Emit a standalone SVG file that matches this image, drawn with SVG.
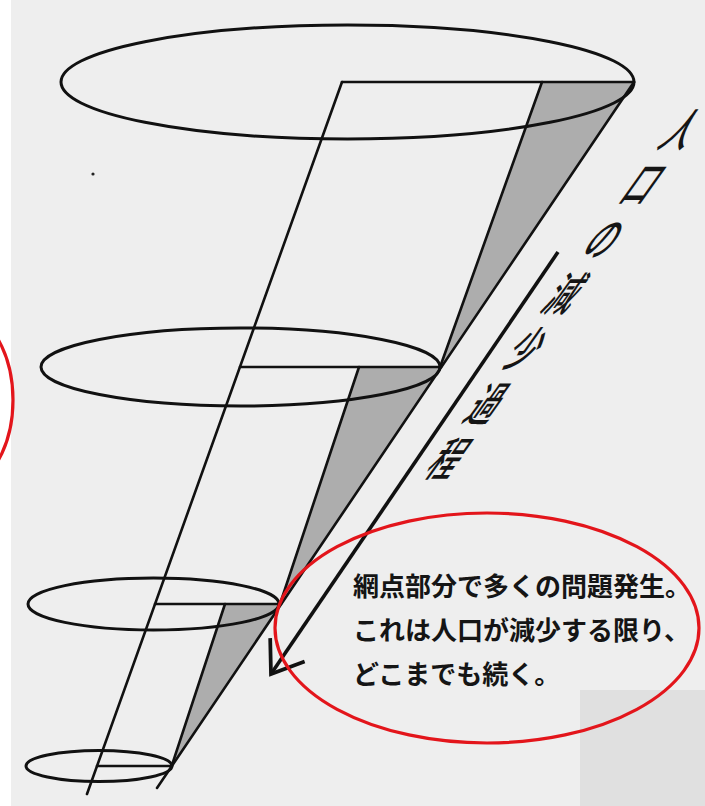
<svg xmlns="http://www.w3.org/2000/svg" width="705" height="806" viewBox="0 0 705 806">
  <defs>
    <style>
      .ln { stroke: #111; stroke-width: 2.6; fill: none; stroke-linecap: round; }
      .el { stroke: #111; stroke-width: 3; fill: none; }
      .shade { fill: #adadad; stroke: none; }
      .red { stroke: #e3151b; stroke-width: 3.2; fill: none; }
      .note { font-family: "Noto Sans CJK JP", sans-serif; font-size: 26px; font-weight: 700; fill: #151515; }
      .lbl { font-family: "Noto Sans CJK JP", sans-serif; font-size: 28px; font-weight: 500; fill: #151515; }
    </style>
    <marker id="openhead" markerUnits="userSpaceOnUse" markerWidth="40" markerHeight="50" refX="0" refY="0" viewBox="-32 -24 36 48" orient="auto" overflow="visible">
      <path d="M -28,-20 L 0,0 L -28,20" fill="none" stroke="#111" stroke-width="3.6"/>
    </marker>
  </defs>

  <!-- paper background -->
  <rect x="0" y="0" width="705" height="806" fill="#eeeeee"/>
  <rect x="0" y="0" width="11" height="806" fill="#ffffff"/>
  <rect x="580" y="690" width="125" height="116" fill="#e0e0e0"/>
  <circle cx="93" cy="174" r="1.6" fill="#222"/>

  <!-- cone levels -->
  <g id="level-top">
    <polygon class="shade" points="542,82 634,82 439,370"/>
    <line class="ln" x1="342" y1="82" x2="634" y2="82"/>
    <line class="ln" x1="542" y1="82" x2="439" y2="370"/>
    <ellipse class="el" cx="347.5" cy="82" rx="286.5" ry="57"/>
  </g>
  <g id="level-middle">
    <polygon class="shade" points="359,367 441.5,367 280,604"/>
    <line class="ln" x1="240" y1="367" x2="441" y2="367"/>
    <line class="ln" x1="359" y1="367" x2="280" y2="604"/>
    <ellipse class="el" cx="240.5" cy="367" rx="199.5" ry="39"/>
  </g>
  <g id="level-lower">
    <polygon class="shade" points="225,604 281,604 172,765"/>
    <line class="ln" x1="155" y1="604" x2="281" y2="604"/>
    <line class="ln" x1="225" y1="604" x2="172" y2="765"/>
    <ellipse class="el" cx="153.5" cy="604" rx="125.5" ry="26"/>
  </g>
  <g id="level-bottom">
    <line class="ln" x1="97" y1="766" x2="172" y2="766"/>
    <ellipse class="el" cx="99" cy="766" rx="73" ry="15.5"/>
  </g>
  <g id="cone-sides">
    <line class="ln" x1="342" y1="82" x2="87" y2="794"/>
    <line class="ln" x1="634" y1="82" x2="157" y2="788"/>
  </g>

  <!-- connectors -->
  <g id="connectors">
    <line x1="558" y1="252" x2="271" y2="674" stroke="#111" stroke-width="3.6" marker-end="url(#openhead)"/>
  </g>

  <!-- slanted label along the arrow -->
  <g id="label-process">
    <text class="lbl" text-anchor="middle" transform="translate(670.5,146.5) skewX(-35.4) scale(1,1.65)" x="0 0 0 0 0 0 0" y="0 33.3 66.6 99.9 133.2 166.5 199.8">人口の減少過程</text>
  </g>

  <!-- red callouts -->
  <g id="callout-left">
    <ellipse class="red" cx="-60" cy="400" rx="73" ry="100"/>
  </g>
  <g id="callout-note">
    <ellipse class="red" cx="487" cy="628" rx="212" ry="115"/>
    <text class="note" x="353" y="596">網点部分で多くの問題発生。</text>
    <text class="note" x="353" y="640">これは人口が減少する限り、</text>
    <text class="note" x="353" y="684">どこまでも続く。</text>
  </g>
</svg>
